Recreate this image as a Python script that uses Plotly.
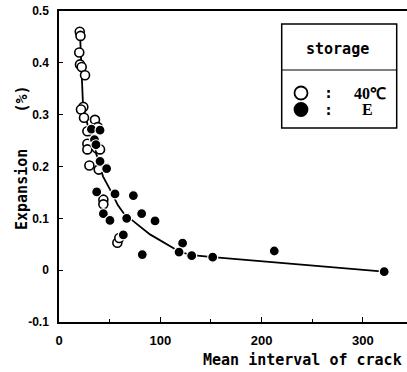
import plotly.graph_objects as go

# Open circles: storage 40°C
open_x = [20.5, 21.2, 20.0, 20.7, 22.4, 25.7, 24.0, 21.7, 24.7, 35.5, 28.0, 38.2, 28.0, 28.0,
          37.2, 40.5, 30.0, 39.2, 43.8, 43.8, 57.6, 59.5]
open_y = [0.460, 0.452, 0.420, 0.397, 0.392, 0.376, 0.315, 0.310, 0.294, 0.290, 0.268, 0.276,
          0.244, 0.233, 0.235, 0.233, 0.202, 0.194, 0.136, 0.127, 0.053, 0.062]

# Filled circles: storage E
fill_x = [32.0, 35.0, 40.5, 36.5, 40.5, 47.0, 37.2, 55.3, 73.4, 43.8, 50.3, 66.8, 81.6, 94.8,
          63.5, 82.2, 122.0, 118.5, 131.0, 151.7, 212.5, 321.0]
fill_y = [0.272, 0.252, 0.270, 0.242, 0.210, 0.196, 0.151, 0.147, 0.144, 0.109, 0.096, 0.100,
          0.109, 0.095, 0.068, 0.030, 0.052, 0.035, 0.028, 0.025, 0.037, -0.003]

# Fitted curve
curve_x = [20.7, 22.2, 23.7, 26.7, 31.6, 37.5, 43.4, 50.3, 58.2, 65.2, 71.8, 89.8, 112.8,
           119.4, 131.3, 152.0, 320.8]
curve_y = [0.458, 0.384, 0.319, 0.292, 0.255, 0.220, 0.181, 0.156, 0.125, 0.106, 0.097,
           0.069, 0.043, 0.035, 0.029, 0.025, -0.003]

x_ticks = [0, 100, 200, 300]
y_ticks = [-0.1, 0, 0.1, 0.2, 0.3, 0.4, 0.5]
y_tick_text = ["-0.1", "0", "0.1", "0.2", "0.3", "0.4", "0.5"]

MONO = "DejaVu Sans Mono"
SANS = "Liberation Sans"
SERIF = "Liberation Serif"

fig = go.Figure()
fig.add_trace(go.Scatter(x=curve_x, y=curve_y, mode="lines",
                         line=dict(color="black", width=1.8), showlegend=False, hoverinfo="skip"))
fig.add_trace(go.Scatter(x=open_x, y=open_y, mode="markers", name="40℃",
                         marker=dict(symbol="circle", size=9, color="white",
                                     line=dict(color="black", width=1.6)), showlegend=False))
fig.add_trace(go.Scatter(x=fill_x, y=fill_y, mode="markers", name="E",
                         marker=dict(symbol="circle", size=10, color="black",
                                     line=dict(color="white", width=1.2)), showlegend=False))

fig.update_layout(
    width=407, height=372,
    margin=dict(l=59, r=0, t=11, b=50),
    paper_bgcolor="white", plot_bgcolor="white",
    showlegend=False,
    xaxis=dict(range=[0, 343.5], tickvals=x_ticks, ticks="inside", ticklen=5, tickwidth=1.2,
               tickcolor="black", showline=True, linecolor="black", linewidth=1.5, mirror=True,
               showgrid=False, zeroline=False,
               tickfont=dict(family=SANS, size=13, color="black", weight="bold"),
               ticklabelstandoff=6,
               minor=dict(tickvals=[50, 150, 250], ticks="inside", ticklen=3, tickcolor="black")),
    yaxis=dict(range=[-0.1, 0.5], tickvals=y_ticks, ticktext=y_tick_text, ticks="inside",
               ticklen=4, tickwidth=1.2, tickcolor="black", showline=True, linecolor="black",
               linewidth=1.5, mirror=False, showgrid=False, zeroline=False,
               tickfont=dict(family=SANS, size=12, color="black", weight="bold"),
               ticklabelstandoff=6),
)

def px2paper(px, py):
    return (px - 59) / 348.0, (322 - py) / 311.0

annotations = []
# x-axis title
ax, ay = px2paper(404, 360)
annotations.append(dict(xref="paper", yref="paper", x=ax, y=ay, xanchor="right", yanchor="middle",
                        text="Mean interval of crack", showarrow=False,
                        font=dict(family=MONO, size=15, color="black", weight="bold")))
# y-axis title
ax, ay = px2paper(22, 158)
annotations.append(dict(xref="paper", yref="paper", x=ax, y=ay, xanchor="center", yanchor="middle",
                        text="Expansion\u00a0\u00a0\u00a0\u00a0(%)", textangle=-90, showarrow=False,
                        font=dict(family=MONO, size=15, color="black", weight="bold")))
# legend texts
ax, ay = px2paper(337, 49)
annotations.append(dict(xref="paper", yref="paper", x=ax, y=ay, xanchor="center", yanchor="middle",
                        text="storage", showarrow=False,
                        font=dict(family=MONO, size=15, color="black", weight="bold")))
for py, label, lx in [(93, "40℃", 369.5), (109.5, "E", 367.5)]:
    cx, cy = px2paper(328, py)
    annotations.append(dict(xref="paper", yref="paper", x=cx, y=cy, xanchor="center",
                            yanchor="middle", text=":", showarrow=False,
                            font=dict(family=MONO, size=15, color="black", weight="bold")))
    tx, ty = px2paper(lx, py)
    annotations.append(dict(xref="paper", yref="paper", x=tx, y=ty, xanchor="center",
                            yanchor="middle", text=label, showarrow=False,
                            font=dict(family=SERIF, size=16, color="black", weight="bold")))
fig.update_layout(annotations=annotations)

shapes = []
bx0, by1 = px2paper(281.7, 24)
bx1, by0 = px2paper(396.7, 128)
shapes.append(dict(type="rect", xref="paper", yref="paper", x0=bx0, x1=bx1, y0=by0, y1=by1,
                   line=dict(color="black", width=1.5), fillcolor="white", layer="above"))
_, dy = px2paper(0, 70)
shapes.append(dict(type="line", xref="paper", yref="paper", x0=bx0, x1=bx1, y0=dy, y1=dy,
                   line=dict(color="black", width=1.2), layer="above"))
# legend symbols
for cy_px, filled in [(93, False), (109.5, True)]:
    x0, y0 = px2paper(301 - 6.5, cy_px + 6.5)
    x1, y1 = px2paper(301 + 6.5, cy_px - 6.5)
    shapes.append(dict(type="circle", xref="paper", yref="paper", x0=x0, x1=x1, y0=y0, y1=y1,
                       line=dict(color="black", width=1.8),
                       fillcolor="black" if filled else "white", layer="above"))
fig.update_layout(shapes=shapes)

fig.write_html("out.html", config={"displayModeBar": False},
               post_script="document.body.style.margin='0';")
